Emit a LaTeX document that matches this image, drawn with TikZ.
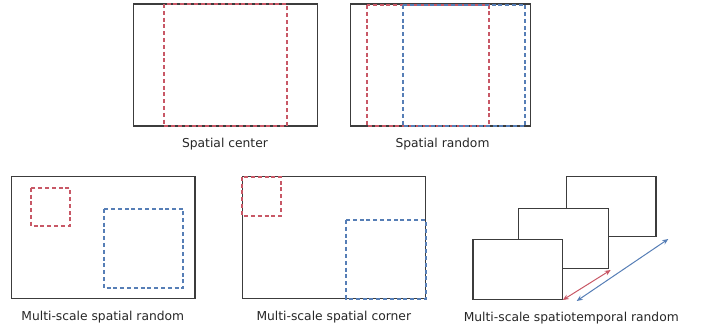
\documentclass[tikz,border=0pt]{standalone}
\usepackage{fontspec}
\setmainfont{DejaVu Sans}
\usetikzlibrary{arrows.meta}
\definecolor{cred}{RGB}{200,88,102}
\definecolor{cblue}{RGB}{86,126,182}
\definecolor{cframe}{RGB}{60,60,60}
\tikzset{
  frame/.style={draw=cframe, line width=1.2pt},
  framefill/.style={draw=cframe, line width=1.2pt, fill=white},
  redcrop/.style={draw=cred, line width=1.7pt, dash pattern=on 4pt off 2.8pt},
  bluecrop/.style={draw=cblue, line width=1.7pt, dash pattern=on 4pt off 2.8pt},
  lbl/.style={font=\fontsize{12.3}{14}\selectfont, text=black!85, inner sep=0pt},
  redarr/.style={draw=cred, line width=1pt, {Stealth[length=6pt,width=5pt]}-{Stealth[length=6pt,width=5pt]}},
  bluearr/.style={draw=cblue, line width=1pt, {Stealth[length=6pt,width=5pt]}-{Stealth[length=6pt,width=5pt]}}
}
\begin{document}
\begin{tikzpicture}[x=1pt,y=-1pt]
\useasboundingbox (0,0) rectangle (708,331);
% Spatial center
\draw[frame] (133.3,4) rectangle (317.3,126);
\draw[redcrop] (164,4) rectangle (286.7,126);
\node[lbl] (l1) at (225,144) {Spatial center};
% Spatial random
\draw[frame] (350.7,4) rectangle (530.7,126);
\draw[redcrop] (366.7,5) rectangle (488.7,126);
\draw[bluecrop] (402.7,5) rectangle (525.3,126);
\node[lbl] (l2) at (442.5,144) {Spatial random};
% Multi-scale spatial random
\draw[frame] (11.7,176.7) rectangle (195,298.7);
\draw[redcrop] (31,187.7) rectangle (69.7,226);
\draw[bluecrop] (104.3,209) rectangle (183.3,288.3);
\node[lbl] (l3) at (102.8,317) {Multi-scale spatial random};
% Multi-scale spatial corner
\draw[frame] (242.3,176.7) rectangle (425.7,298.7);
\draw[redcrop] (242.3,176.7) rectangle (281,215.7);
\draw[bluecrop] (346,220) rectangle (425.7,298.7);
\node[lbl] (l4) at (333.8,317) {Multi-scale spatial corner};
% Multi-scale spatiotemporal random
\draw[framefill] (566.7,176.7) rectangle (656,236.3);
\draw[framefill] (518.7,208.7) rectangle (608.3,268.7);
\draw[framefill] (473,239.7) rectangle (562.7,299.7);
\coordinate (ra) at (562.8,300);
\coordinate (rb) at (610.7,270);
\coordinate (ba) at (576.7,301);
\coordinate (bb) at (668.3,239);
\draw[redarr] (ra) -- (rb);
\draw[bluearr] (ba) -- (bb);
\node[lbl] (l5) at (571.3,318) {Multi-scale spatiotemporal random};
\end{tikzpicture}
\end{document}
